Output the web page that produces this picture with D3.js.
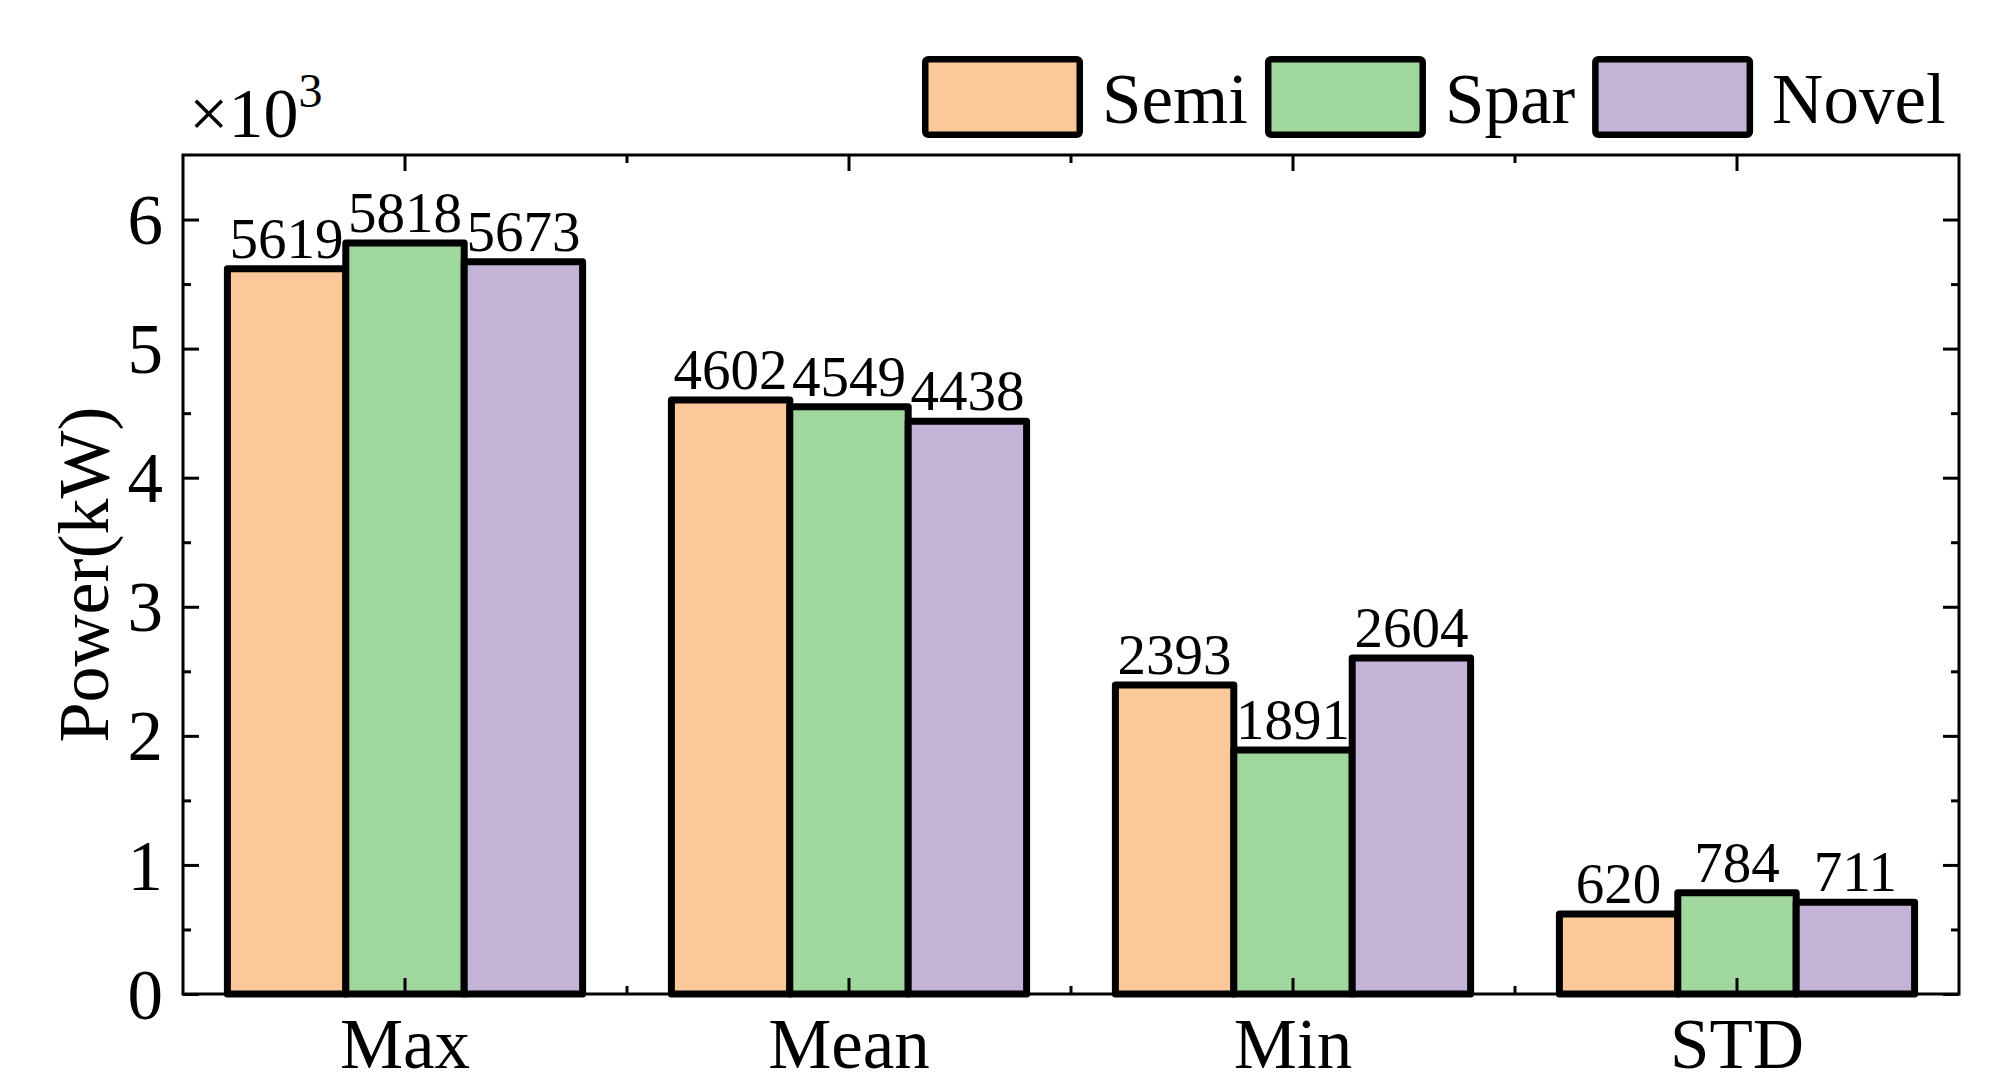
<!DOCTYPE html>
<html>
<head>
<meta charset="utf-8">
<script src="https://cdn.jsdelivr.net/npm/d3@7"></script>
<style>
  html, body { margin: 0; padding: 0; background: #fff; }
  svg { display: block; font-family: "Liberation Serif", "Times New Roman", serif; }
</style>
</head>
<body>
<svg id="chart" width="1992" height="1092"></svg>
<script>
// ---- data ----
const categories = ["Max", "Mean", "Min", "STD"];
const seriesNames = ["Semi", "Spar", "Novel"];
const semiValues = [5619, 4602, 2393, 620];
const sparValues = [5818, 4549, 1891, 784];
const novelValues = [5673, 4438, 2604, 711];
const seriesColors = ["#FBC999", "#9FD79D", "#C3B3D7"];
const yTickValues = [0, 1, 2, 3, 4, 5, 6];
const yMinorTickValues = [0.5, 1.5, 2.5, 3.5, 4.5, 5.5];
const yAxisTitle = "Power(kW)";

const seriesValues = [semiValues, sparValues, novelValues];

// ---- layout ----
const svg = d3.select("#chart");
const L = 183, R = 1959, T = 155, B = 994;

const x = d3.scaleBand().domain(categories).range([L, R]).padding(0);
const bw = x.bandwidth();
const xs = d3.scaleBand().domain(seriesNames).range([0.1 * bw, 0.9 * bw]).padding(0);
const y = d3.scaleLinear().domain([0, 6.5]).range([B, T]);

// ---- bars ----
const data = [];
categories.forEach((c, ci) => {
  seriesNames.forEach((s, si) => {
    data.push({ cat: c, ser: s, si: si, value: seriesValues[si][ci] });
  });
});

const gBars = svg.append("g");
gBars.selectAll("rect")
  .data(data)
  .join("rect")
  .attr("x", d => x(d.cat) + xs(d.ser))
  .attr("y", d => y(d.value / 1000))
  .attr("width", xs.bandwidth())
  .attr("height", d => y(0) - y(d.value / 1000))
  .attr("fill", d => seriesColors[d.si])
  .attr("stroke", "#000")
  .attr("stroke-width", 7)
  .attr("stroke-linejoin", "round");

// value labels
svg.append("g").selectAll("text")
  .data(data)
  .join("text")
  .attr("x", d => x(d.cat) + xs(d.ser) + xs.bandwidth() / 2)
  .attr("y", d => y(d.value / 1000) - 11)
  .attr("text-anchor", "middle")
  .attr("font-size", 57)
  .attr("fill", "#000")
  .text(d => d.value);

// ---- axes ----
const axisW = 3;
// left axis
const leftAxis = svg.append("g").attr("transform", `translate(${L},0)`)
  .call(d3.axisLeft(y).tickValues(yTickValues).tickSize(-16).tickPadding(20).tickFormat(d3.format("d")));
leftAxis.select(".domain").remove();
leftAxis.selectAll(".tick line").attr("stroke", "#000").attr("stroke-width", axisW);
leftAxis.selectAll(".tick text").attr("font-size", 71).attr("font-family", "Liberation Serif").attr("fill", "#000").attr("dy", "0.34em");
const leftMinor = svg.append("g").attr("transform", `translate(${L},0)`)
  .call(d3.axisLeft(y).tickValues(yMinorTickValues).tickSize(-8).tickFormat(""));
leftMinor.select(".domain").remove();
leftMinor.selectAll(".tick line").attr("stroke", "#000").attr("stroke-width", axisW);

// right axis
const rightAxis = svg.append("g").attr("transform", `translate(${R},0)`)
  .call(d3.axisRight(y).tickValues(yTickValues).tickSize(-16).tickFormat(""));
rightAxis.select(".domain").remove();
rightAxis.selectAll(".tick line").attr("stroke", "#000").attr("stroke-width", axisW);
const rightMinor = svg.append("g").attr("transform", `translate(${R},0)`)
  .call(d3.axisRight(y).tickValues(yMinorTickValues).tickSize(-8).tickFormat(""));
rightMinor.select(".domain").remove();
rightMinor.selectAll(".tick line").attr("stroke", "#000").attr("stroke-width", axisW);

// bottom axis
const bottomAxis = svg.append("g").attr("transform", `translate(0,${B})`)
  .call(d3.axisBottom(x).tickSize(-16).tickPadding(24));
bottomAxis.select(".domain").remove();
bottomAxis.selectAll(".tick line").attr("stroke", "#000").attr("stroke-width", axisW);
bottomAxis.selectAll(".tick text").attr("font-size", 71).attr("font-family", "Liberation Serif").attr("fill", "#000").attr("dy", "0.71em");

// boundary (minor) ticks on bottom and top
const boundaries = categories.slice(1).map(c => x(c));
svg.append("g").selectAll("line").data(boundaries).join("line")
  .attr("x1", d => d).attr("x2", d => d).attr("y1", B).attr("y2", B - 8)
  .attr("stroke", "#000").attr("stroke-width", axisW);
svg.append("g").selectAll("line").data(boundaries).join("line")
  .attr("x1", d => d).attr("x2", d => d).attr("y1", T).attr("y2", T + 8)
  .attr("stroke", "#000").attr("stroke-width", axisW);

// top axis
const topAxis = svg.append("g").attr("transform", `translate(0,${T})`)
  .call(d3.axisTop(x).tickSize(-16).tickFormat(""));
topAxis.select(".domain").remove();
topAxis.selectAll(".tick line").attr("stroke", "#000").attr("stroke-width", axisW);

// frame
svg.append("rect")
  .attr("x", L).attr("y", T).attr("width", R - L).attr("height", B - T)
  .attr("fill", "none").attr("stroke", "#000").attr("stroke-width", axisW);

// y title
svg.append("text")
  .attr("transform", `translate(108,${(T + B) / 2}) rotate(-90)`)
  .attr("text-anchor", "middle")
  .attr("font-size", 72)
  .attr("fill", "#000")
  .text(yAxisTitle);

// x10^3 multiplier
const mult = svg.append("text")
  .attr("x", 189).attr("y", 137)
  .attr("font-size", 70)
  .attr("fill", "#000");
mult.append("tspan").text("×10");
mult.append("tspan").attr("font-size", 48).attr("dy", -30).text("3");

// ---- legend ----
const legend = svg.append("g");
let lx = 922;
const boxW = 161, boxH = 82, boxTop = 56, sw = 6.5;
seriesNames.forEach((s, i) => {
  legend.append("rect")
    .attr("x", lx + sw / 2).attr("y", boxTop + sw / 2)
    .attr("width", boxW - sw).attr("height", boxH - sw)
    .attr("rx", 3)
    .attr("fill", seriesColors[i]).attr("stroke", "#000").attr("stroke-width", sw);
  const t = legend.append("text")
    .attr("x", lx + boxW + 19).attr("y", 123)
    .attr("font-size", 71).attr("fill", "#000")
    .text(s);
  const tw = t.node().getComputedTextLength();
  lx = lx + boxW + 19 + tw + 17;
});
</script>
</body>
</html>
